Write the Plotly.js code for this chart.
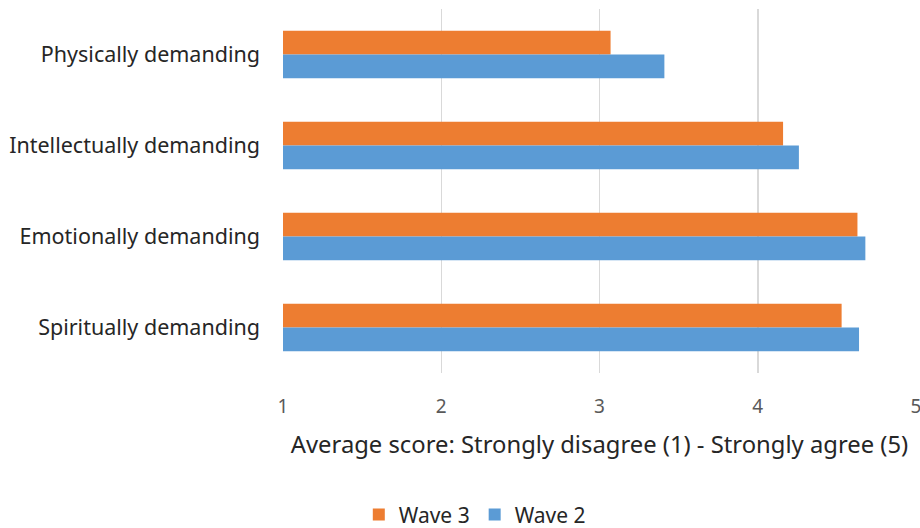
<!DOCTYPE html>
<html>
<head>
<meta charset="utf-8">
<script src="https://cdn.plot.ly/plotly-3.0.1.min.js"></script>
<style>html,body{margin:0;padding:0;background:#fff;}#chart{width:920px;height:528px;}</style>
</head>
<body>
<div id="chart"></div>
<script>
const categories = ["Physically demanding", "Intellectually demanding", "Emotionally demanding", "Spiritually demanding"];
const wave3 = [3.07, 4.16, 4.63, 4.53];
const wave2 = [3.41, 4.26, 4.68, 4.64];
const xTicks = [1, 2, 3, 4, 5];

const FONT = "Noto Sans, Open Sans, sans-serif";

const data = [
  {type: "bar", orientation: "h", name: "Wave 3", y: categories, x: wave3,
   marker: {color: "#ED7D31", line: {width: 0}}},
  {type: "bar", orientation: "h", name: "Wave 2", y: categories, x: wave2,
   marker: {color: "#5B9BD5", line: {width: 0}}}
];

const layout = {
  width: 920, height: 528,
  margin: {l: 283, r: 4, t: 9, b: 155, autoexpand: false},
  paper_bgcolor: "#fff", plot_bgcolor: "#fff",
  barmode: "group", bargap: 0.48, bargroupgap: 0,
  font: {family: FONT, size: 20, color: "#262626"},
  xaxis: {
    range: [1, 5], tickvals: xTicks, ticktext: xTicks.map(String),
    showgrid: true, gridcolor: "#d9d9d9", gridwidth: 1.5,
    zeroline: false, showline: false, ticks: "",
    ticklabelstandoff: 20, automargin: false, ticklabeloverflow: "allow",
    tickfont: {family: FONT, size: 19, color: "#595959"},
    title: {text: "Average score: Strongly disagree (1) - Strongly agree (5)",
            font: {family: FONT, size: 23.8, color: "#262626"}, standoff: 18}
  },
  yaxis: {
    autorange: "reversed", showgrid: false, zeroline: false, showline: false, ticks: "",
    ticklabelstandoff: 22, automargin: false,
    tickfont: {family: FONT, size: 21.5, color: "#262626"}
  },
  showlegend: true,
  legend: {orientation: "h", x: 0.303, xref: "paper", xanchor: "center", y: -0.39, yanchor: "middle",
           font: {family: FONT, size: 21, color: "#262626"}, traceorder: "normal",
           itemwidth: 30, tracegroupgap: 0}
};
Plotly.newPlot("chart", data, layout, {displayModeBar: false, staticPlot: true});
</script>
</body>
</html>
